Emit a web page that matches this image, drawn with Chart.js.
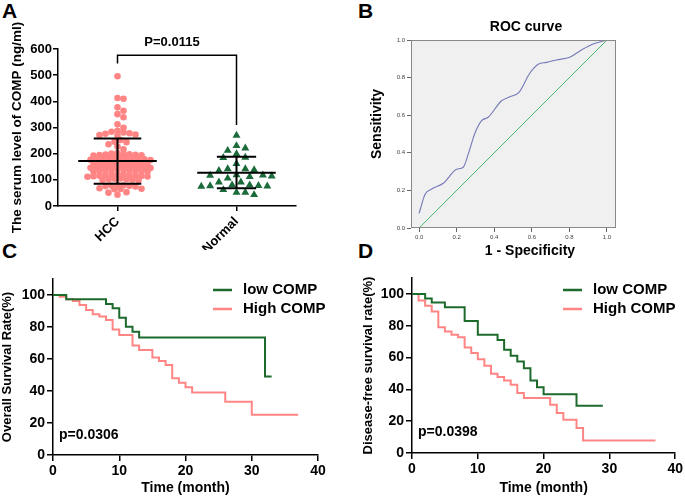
<!DOCTYPE html>
<html>
<head>
<meta charset="utf-8">
<script src="https://cdn.jsdelivr.net/npm/chart.js@4.4.1/dist/chart.umd.min.js"></script>
<style>
  body { margin: 0; background: #fff; width: 685px; height: 499px; position: relative; overflow: hidden; font-family: "Liberation Sans", Arial, sans-serif; }
  canvas { position: absolute; }
  .tag { position: absolute; font-weight: bold; font-size: 21px; line-height: 21px; }
</style>
</head>
<body>
<div class="tag" style="left:2px;top:0px">A</div>
<div class="tag" style="left:358px;top:0px">B</div>
<div class="tag" style="left:2px;top:240px">C</div>
<div class="tag" style="left:358px;top:240px">D</div>
<canvas id="chartA" width="340" height="250" style="left:0;top:0"></canvas>
<canvas id="chartB" width="345" height="262" style="left:340px;top:0"></canvas>
<canvas id="chartC" width="340" height="249" style="left:0;top:250px"></canvas>
<canvas id="chartD" width="345" height="249" style="left:340px;top:250px"></canvas>
<script>
// ---- panel A: serum COMP (ng/ml)
const groups = ["HCC", "Normal"];
const hccValues = [496, 413, 410, 377, 364, 351, 339, 312,
  299, 287, 284, 281, 278, 276, 273, 271, 268, 252,
  246, 244, 236, 227, 217,
  202, 200, 199, 198, 197, 196, 195, 194, 193,
  186, 185, 184, 183, 182, 181, 180, 179, 178, 177, 176,
  170, 169, 168, 167, 166, 165, 164, 163, 162, 161,
  155, 154, 153, 152, 151, 150, 149, 148, 147, 146, 145,
  140, 139, 138, 137, 136, 135, 134, 133, 132, 131,
  122, 121, 120, 119, 118, 117, 116, 115, 114, 113, 112,
  105, 104, 102, 101, 100, 99, 98,
  80, 79, 78, 77, 76, 75,
  68, 66, 65, 64,
  53, 51, 43];
const normalValues = [270, 230, 221, 212, 199, 186, 185, 162, 142, 142, 138, 135,
  119, 118, 117, 114, 112, 106, 91, 91, 80, 80, 78, 77, 76, 75, 62, 52, 52, 43];
const hccSummary = [172, 85, 258];     // mean, mean-SD, mean+SD
const normalSummary = [127, 68, 188];
const bracketA = [545, 576, 310];      // left end, top, right end
const pTextA = "P=0.0115";

// ---- panel B: ROC
const rocX = [0, 0.032, 0.067, 0.129, 0.2, 0.235, 0.262, 0.297, 0.333, 0.368, 0.439, 0.483,
  0.533, 0.589, 0.634, 0.678, 0.731, 0.802, 0.864, 0.926, 1.0];
const rocY = [0.078, 0.179, 0.207, 0.238, 0.312, 0.323, 0.394, 0.504, 0.571, 0.589, 0.677, 0.698,
  0.723, 0.823, 0.871, 0.881, 0.894, 0.908, 0.947, 0.979, 1.0];
const refX = [0, 1];
const refY = [0, 1];
const rocTicks = [0, 0.2, 0.4, 0.6, 0.8, 1.0];

// ---- panel C: overall survival
const osLowTime = [0, 2, 8, 9, 10, 11, 12, 13, 32, 33];
const osLowRate = [100, 97.3, 94.4, 91.7, 85.8, 80.2, 77.1, 73.5, 49, 49];
const osHighTime = [0, 1, 2, 3, 4, 5, 6, 7, 8, 9, 10, 12, 13, 15, 16, 17, 18, 19, 20, 21, 26, 30, 37];
const osHighRate = [100, 98.9, 97.3, 96.2, 93.8, 90.6, 88, 86.5, 84.4, 78.5, 75, 68.5, 65.6, 61, 58.8,
  56.3, 48, 45.2, 42.3, 39, 33.3, 25.2, 25.2];
const pTextC = "p=0.0306";

// ---- panel D: disease-free survival
const dfsLowTime = [0, 2, 3, 5, 8, 10, 13, 14, 15, 16, 17, 18, 19, 20, 25, 29];
const dfsLowRate = [100, 97.1, 94.6, 91.6, 83, 74.3, 71.1, 64.9, 61.1, 57.5, 53.3, 45.6, 41.4, 37, 29.7, 29.7];
const dfsHighTime = [0, 1, 2, 3, 4, 5, 6, 7, 8, 9, 10, 11, 12, 13, 14, 15, 16, 17, 21, 22, 23, 25, 26, 37];
const dfsHighRate = [100, 95.8, 92.5, 88.9, 79, 76.4, 74.3, 72.8, 66.3, 62.8, 59, 54.8, 49.8, 47.7,
  45.6, 42.9, 37.7, 34.5, 30.3, 25.1, 20.9, 15.7, 7.9, 7.9];
const pTextD = "p=0.0398";

const survTicks = [0, 20, 40, 60, 80, 100];
const legendNames = ["low COMP", "High COMP"];

const GREEN = "#1d6b2c";
const PINK = "#ff8585";
const FONT = '"Liberation Sans", Arial, sans-serif';

Chart.defaults.font.family = FONT;
Chart.defaults.color = "#000";
Chart.defaults.animation = false;
Chart.defaults.events = [];
Chart.defaults.plugins.legend.display = false;
Chart.defaults.plugins.tooltip.enabled = false;

// simple beeswarm: keep the value, push points sideways until they stop overlapping
function swarm(values, center, gap, minDist, pxPerX, pxPerY) {
  const placed = [];
  return values.slice().sort((a, b) => b - a).map(v => {
    const y = v * pxPerY;
    for (let k = 0; ; k++) {
      const off = (k % 2 ? 1 : -1) * Math.ceil(k / 2) * gap;
      if (placed.every(p => (p.x - off) ** 2 + (p.y - y) ** 2 >= minDist * minDist)) {
        placed.push({ x: off, y: y });
        return { x: center + off / pxPerX, y: v };
      }
    }
  });
}

function axisStyle(tickLen, pad, size) {
  return {
    grid: { display: true, drawOnChartArea: false, drawTicks: true, tickLength: tickLen, color: "#000", lineWidth: 1.5 },
    border: { display: true, color: "#000", width: 1.5 },
    ticks: { font: { size: size, weight: "bold" }, padding: pad, color: "#000" }
  };
}

// ---------- A
const pxPerUnitY = 157.6 / 600;
const pxPerUnitX = 119;
const hccPoints = swarm(hccValues, 1, 3.0, 4.7, pxPerUnitX, pxPerUnitY);
const normalPoints = swarm(normalValues, 2, 4.4, 8, pxPerUnitX, pxPerUnitY);

const errorBars = {
  id: "errorBars",
  afterDatasetsDraw(chart) {
    const { ctx, scales: { x, y } } = chart;
    ctx.save();
    ctx.strokeStyle = "#000";
    ctx.lineWidth = 2;
    [[1, hccSummary, 0.2], [2, normalSummary, 0.165]].forEach(([c, s, cap]) => {
      const cx = x.getPixelForValue(c);
      const half = 0.33 * pxPerUnitX;
      const capw = cap * pxPerUnitX;
      ctx.beginPath();
      ctx.moveTo(cx - half, y.getPixelForValue(s[0]));
      ctx.lineTo(cx + half, y.getPixelForValue(s[0]));
      ctx.moveTo(cx, y.getPixelForValue(s[1]));
      ctx.lineTo(cx, y.getPixelForValue(s[2]));
      ctx.moveTo(cx - capw, y.getPixelForValue(s[1]));
      ctx.lineTo(cx + capw, y.getPixelForValue(s[1]));
      ctx.moveTo(cx - capw, y.getPixelForValue(s[2]));
      ctx.lineTo(cx + capw, y.getPixelForValue(s[2]));
      ctx.stroke();
    });
    // significance bracket
    const x1 = x.getPixelForValue(1), x2 = x.getPixelForValue(2);
    const top = y.getPixelForValue(bracketA[1]);
    ctx.lineWidth = 1.5;
    ctx.beginPath();
    ctx.moveTo(x1, y.getPixelForValue(bracketA[0]));
    ctx.lineTo(x1, top);
    ctx.lineTo(x2, top);
    ctx.lineTo(x2, y.getPixelForValue(bracketA[2]));
    ctx.stroke();
    ctx.fillStyle = "#000";
    ctx.font = "bold 13px " + FONT;
    ctx.textAlign = "center";
    ctx.textBaseline = "middle";
    ctx.fillText(pTextA, (x1 + x2) / 2 - 5, top - 13);
    ctx.restore();
  }
};

const axA_x = axisStyle(5, 1, 13);
const axA_y = axisStyle(5, 1, 13);
new Chart(document.getElementById("chartA"), {
  type: "scatter",
  data: {
    datasets: [
      { label: groups[0], data: hccPoints, pointStyle: "circle", pointRadius: 3.3, backgroundColor: PINK, borderWidth: 0 },
      { label: groups[1], data: normalPoints, pointStyle: "triangle", pointRadius: 4.6, backgroundColor: "#1b6b3a", borderWidth: 0 }
    ]
  },
  options: {
    responsive: false,
    layout: { padding: { left: 5, right: 44, top: 49, bottom: 0 } },
    scales: {
      x: Object.assign(axA_x, {
        type: "linear", min: 0.5, max: 2.5,
        afterBuildTicks: s => { s.ticks = [{ value: 1 }, { value: 2 }]; },
        afterFit: s => { s.height = 44; },
        ticks: Object.assign(axA_x.ticks, { minRotation: 45, maxRotation: 45, autoSkip: false, padding: 3,
          callback: v => groups[v - 1] || "" })
      }),
      y: Object.assign(axA_y, {
        min: 0, max: 600,
        afterFit: s => { s.width = 53; },
        ticks: Object.assign(axA_y.ticks, { stepSize: 100 }),
        title: { display: true, text: "The serum level of COMP (ng/ml)", font: { size: 13.5, weight: "bold" }, padding: { top: 4 } }
      })
    }
  },
  plugins: [errorBars]
});

// ---------- B
const rocFrame = {
  id: "rocFrame",
  beforeDraw(chart) {
    const { ctx, chartArea: a } = chart;
    ctx.save();
    ctx.fillStyle = "#f0f0f0";
    ctx.fillRect(a.left, a.top, a.right - a.left, a.bottom - a.top);
    ctx.restore();
  },
  afterDraw(chart) {
    const { ctx, chartArea: a } = chart;
    ctx.save();
    ctx.strokeStyle = "#8a8a8a";
    ctx.lineWidth = 1;
    ctx.strokeRect(a.left + 0.5, a.top + 0.5, a.right - a.left - 1, a.bottom - a.top - 1);
    ctx.fillStyle = "#000";
    ctx.font = "bold 14px " + FONT;
    ctx.textAlign = "center";
    ctx.textBaseline = "middle";
    ctx.fillText("ROC curve", 186, 27);
    ctx.fillText("1 - Specificity", 190, 251);
    ctx.translate(37, 124);
    ctx.rotate(-Math.PI / 2);
    ctx.fillText("Sensitivity", 0, 0);
    ctx.restore();
  }
};

function rocAxis() {
  return {
    grid: { display: true, drawOnChartArea: false, drawTicks: true, tickLength: 4, color: "#666", lineWidth: 1 },
    border: { display: false },
    ticks: { font: { size: 6 }, padding: 2, color: "#444", callback: v => v.toFixed(1), autoSkip: false, maxRotation: 0 },
    afterBuildTicks: s => { s.ticks = rocTicks.map(v => ({ value: v })); }
  };
}
new Chart(document.getElementById("chartB"), {
  type: "line",
  data: {
    datasets: [
      { data: rocX.map((v, i) => ({ x: v, y: rocY[i] })), borderColor: "#7479b8", borderWidth: 1.1,
        pointRadius: 0, cubicInterpolationMode: "monotone" },
      { data: refX.map((v, i) => ({ x: v, y: refY[i] })), borderColor: "#4cb86a", borderWidth: 1, pointRadius: 0 }
    ]
  },
  options: {
    responsive: false,
    layout: { padding: { left: 25, right: 69, top: 40, bottom: 0 } },
    scales: {
      x: Object.assign(rocAxis(), { type: "linear", min: -0.043, max: 1.048, afterFit: s => { s.height = 34; } }),
      y: Object.assign(rocAxis(), { min: 0, max: 1, afterFit: s => { s.width = 46; } })
    }
  },
  plugins: [rocFrame]
});

// ---------- C & D
function kmChart(id, opts) {
  const legendAndP = {
    id: "legendAndP",
    afterDraw(chart) {
      const ctx = chart.ctx;
      ctx.save();
      [GREEN, PINK].forEach((c, i) => {
        const y = opts.legY + i * 19;
        ctx.strokeStyle = c;
        ctx.lineWidth = 2.5;
        ctx.beginPath();
        ctx.moveTo(opts.legX, y);
        ctx.lineTo(opts.legX + 19, y);
        ctx.stroke();
        ctx.fillStyle = "#000";
        ctx.font = "bold 15px " + FONT;
        ctx.textAlign = "left";
        ctx.textBaseline = "middle";
        ctx.fillText(legendNames[i], opts.legX + 30, y);
      });
      ctx.font = "bold 14px " + FONT;
      ctx.fillText(opts.p, opts.pX, opts.pY);
      ctx.restore();
    }
  };
  const ax = axisStyle(6, 2, 14);
  const ay = axisStyle(6, 2, 14);
  new Chart(document.getElementById(id), {
    type: "line",
    data: {
      datasets: [
        { label: legendNames[0], data: opts.lowT.map((t, i) => ({ x: t, y: opts.lowR[i] })),
          borderColor: GREEN, borderWidth: 2, pointRadius: 0, stepped: true },
        { label: legendNames[1], data: opts.highT.map((t, i) => ({ x: t, y: opts.highR[i] })),
          borderColor: PINK, borderWidth: 2, pointRadius: 0, stepped: true }
      ]
    },
    options: {
      responsive: false,
      layout: { padding: opts.padding },
      scales: {
        x: Object.assign(ax, {
          type: "linear", min: 0, max: 40,
          afterFit: s => { s.height = opts.xh; },
          ticks: Object.assign(ax.ticks, { stepSize: 10, maxRotation: 0 }),
          title: { display: true, text: "Time (month)", font: { size: 14, weight: "bold" }, padding: { bottom: 2 } }
        }),
        y: Object.assign(ay, {
          min: 0, max: 110,
          afterBuildTicks: s => { s.ticks = survTicks.map(v => ({ value: v })); },
          afterFit: s => { s.width = opts.yw; },
          title: { display: true, text: opts.ytitle, font: { size: 13, weight: "bold" }, padding: { top: 0 } }
        })
      }
    },
    plugins: [legendAndP]
  });
}

kmChart("chartC", {
  lowT: osLowTime, lowR: osLowRate, highT: osHighTime, highR: osHighRate,
  ytitle: "Overall Survival Rate(%)", p: pTextC,
  padding: { left: 0, right: 22, top: 29, bottom: 0 }, yw: 53, xh: 44,
  legX: 213, legY: 40, pX: 59, pY: 185
});
kmChart("chartD", {
  lowT: dfsLowTime, lowR: dfsLowRate, highT: dfsHighTime, highR: dfsHighRate,
  ytitle: "Disease-free survival rate(%)", p: pTextD,
  padding: { left: 21, right: 8, top: 28, bottom: 0 }, yw: 51, xh: 46,
  legX: 223, legY: 40, pX: 78, pY: 182
});
</script>
</body>
</html>
